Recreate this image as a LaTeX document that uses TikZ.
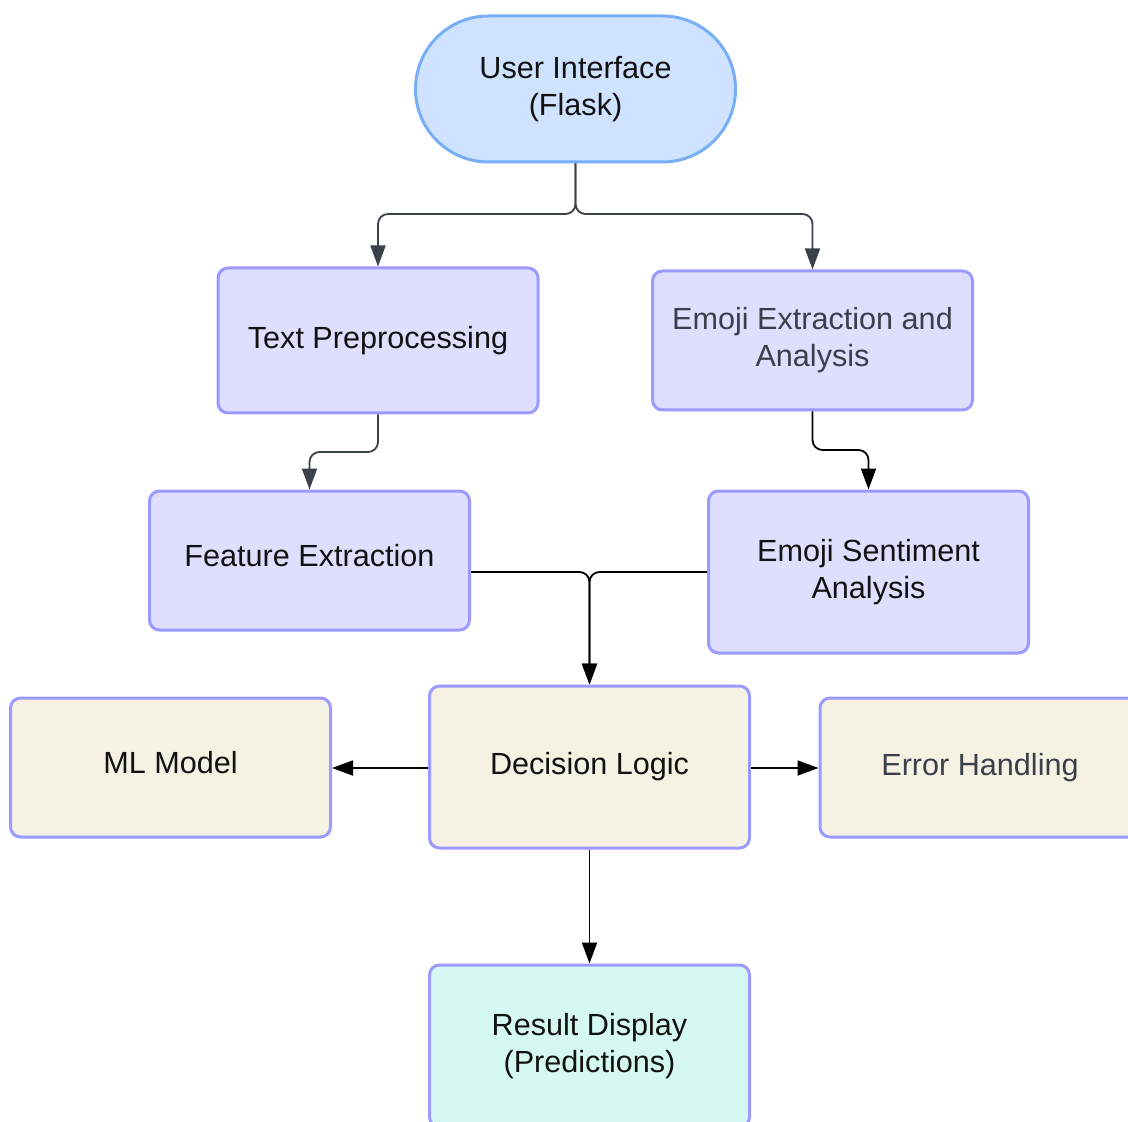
\documentclass[tikz,border=0pt]{standalone}
\usepackage{fontspec}
\setmainfont{Liberation Sans}
\usetikzlibrary{arrows.meta,calc}
\definecolor{uifill}{HTML}{CFE2FF}
\definecolor{uidraw}{HTML}{78AEF6}
\definecolor{lavfill}{HTML}{DEDEFF}
\definecolor{lavdraw}{HTML}{9A9AFF}
\definecolor{beigefill}{HTML}{F5F2E3}
\definecolor{resfill}{HTML}{D6F8F3}
\definecolor{grayline}{HTML}{3A414A}
\definecolor{graytext}{HTML}{3A3F4A}
\tikzset{
  box/.style={draw=lavdraw, line width=1.5pt, rounded corners=5pt, minimum width=160pt, inner sep=0pt, align=center, font=\fontsize{15.3}{18.5}\selectfont, text=black!93},
  lav/.style={box, fill=lavfill},
  beige/.style={box, fill=beigefill},
  conn/.style={line width=0.9pt, rounded corners=5pt, -{Triangle[length=10.5pt,width=7.5pt]}},
  gconn/.style={conn, draw=grayline, -{Triangle[length=10.5pt,width=7.5pt,fill=grayline]}},
}
\begin{document}
\begin{tikzpicture}[x=0.5pt,y=-0.5pt]
\useasboundingbox (0,0) rectangle (1128,1122);
\clip (0,0) rectangle (1128,1122);
\fill[white] (0,0) rectangle (1128,1122);
% nodes
\node[box, fill=uifill, draw=uidraw, rounded corners=36.5pt, minimum height=73pt] (ui) at (575.5,89) {User Interface\\(Flask)};
\node[lav, minimum height=72.5pt] (tp) at (378,340.5) {\raisebox{2pt}{Text Preprocessing}};
\node[lav, minimum height=69.5pt, text=graytext] (ee) at (812.5,340.5) {Emoji Extraction and\\Analysis};
\node[lav, minimum height=69.5pt] (fe) at (309.5,560.5) {\raisebox{5pt}{Feature Extraction}};
\node[lav, minimum height=81pt] (es) at (868.5,572) {Emoji Sentiment\\Analysis};
\node[beige, minimum height=81pt] (dl) at (589.5,767) {Decision Logic};
\node[beige, minimum height=69.5pt] (ml) at (170.5,767.5) {\raisebox{5pt}{ML Model}};
\node[beige, minimum height=69.5pt, text=graytext] (eh) at (980,767.5) {\raisebox{3pt}{Error Handling}};
\node[box, fill=resfill, minimum height=81pt] (rd) at (589.5,1046) {Result Display\\(Predictions)};
% connectors
\draw[gconn] (ui.south) -- (ui.south |- 0,214) -| (tp.north);
\draw[gconn] (ui.south) -- (ui.south |- 0,214) -| (ee.north);
\draw[gconn] (tp.south) -- (tp.south |- 0,452) -| (fe.north);
\draw[conn] (ee.south) -- (ee.south |- 0,450) -| (es.north);
\draw[conn] (fe.east |- 0,572) -| (dl.north);
\draw[conn] (es.west) -| (dl.north);
\draw[conn] (dl.west |- 0,768) -- (ml.east |- 0,768);
\draw[conn] (dl.east |- 0,768) -- (eh.west |- 0,768);
\draw[conn] (dl.south) -- (rd.north);
\end{tikzpicture}
\end{document}
